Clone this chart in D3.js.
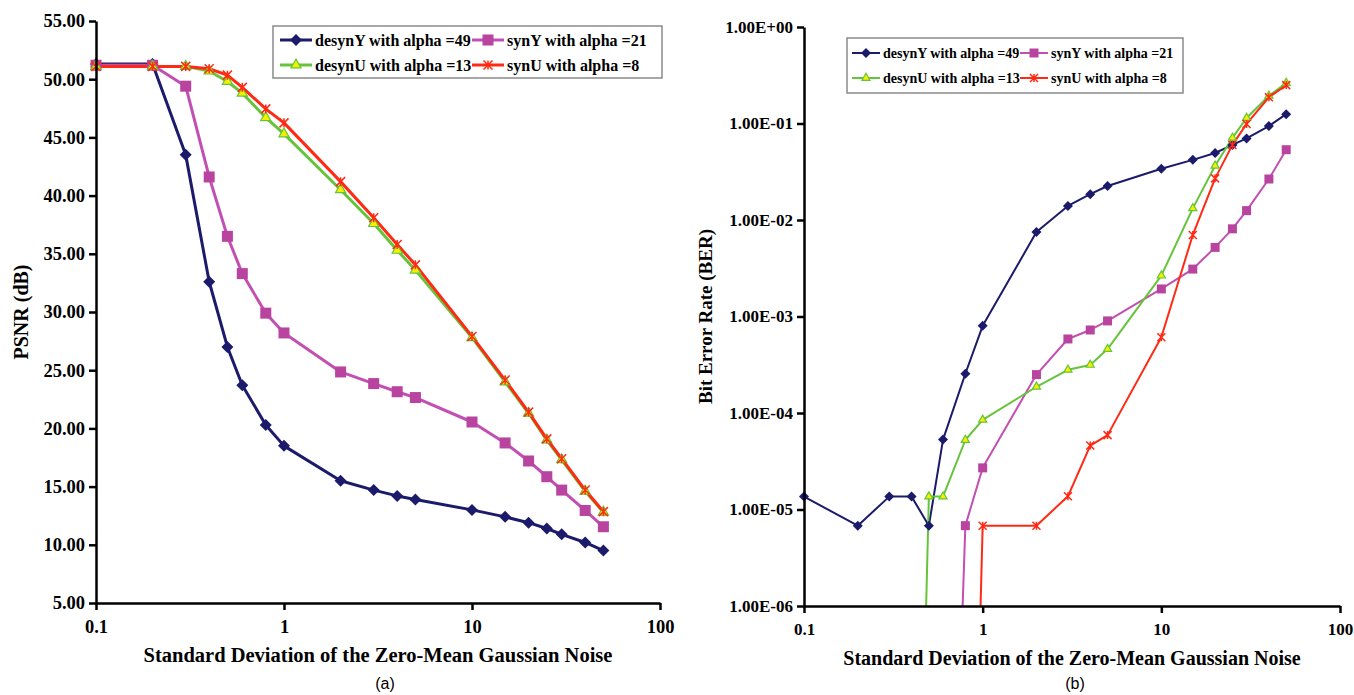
<!DOCTYPE html>
<html lang="en">
<meta charset="utf-8">
<head>
    <script src="https://d3js.org/d3.v7.min.js"></script>
    <style>
        body { margin: 0; background: #fff; }
        text { font-family: "Liberation Serif", "Times New Roman", serif; font-weight: bold; }
        .caption { font-family: "Liberation Sans", Arial, sans-serif; font-weight: normal; }
    </style>
</head>
<body>
<script>
    // noise levels (std dev of zero-mean gaussian noise)
    var noiseStd = [0.1, 0.2, 0.3, 0.4, 0.5, 0.6, 0.8, 1, 2, 3, 4, 5, 10, 15, 20, 25, 30, 40, 50];

    // (a) PSNR in dB
    var psnrDesynY = [51.3, 51.3, 43.5, 32.6, 27.0, 23.7, 20.3, 18.5, 15.5, 14.7, 14.2, 13.9, 13.0, 12.4, 11.9, 11.4, 10.9, 10.2, 9.5];
    var psnrSynY   = [51.2, 51.2, 49.4, 41.6, 36.5, 33.3, 29.9, 28.2, 24.85, 23.85, 23.15, 22.65, 20.55, 18.75, 17.2, 15.85, 14.7, 12.95, 11.55];
    var psnrDesynU = [51.1, 51.1, 51.1, 50.7, 49.8, 48.8, 46.7, 45.3, 40.5, 37.6, 35.3, 33.6, 27.8, 24.0, 21.3, 19.0, 17.3, 14.6, 12.8];
    var psnrSynU   = [51.1, 51.1, 51.1, 50.9, 50.35, 49.3, 47.45, 46.25, 41.2, 38.1, 35.8, 34.05, 27.9, 24.15, 21.4, 19.1, 17.4, 14.7, 12.85];

    // (b) bit error rate, 0 = no errors (off the log axis)
    var berDesynY = [1.36e-5, 6.8e-6, 1.36e-5, 1.36e-5, 6.8e-6, 5.3e-5, 2.55e-4, 8.0e-4, 7.5e-3, 1.4e-2, 1.85e-2, 2.25e-2, 3.4e-2, 4.2e-2, 4.95e-2, 6.0e-2, 7.0e-2, 9.4e-2, 0.125];
    var berSynY   = [0, 0, 0, 0, 0, 0, 6.8e-6, 2.7e-5, 2.5e-4, 5.85e-4, 7.25e-4, 9.0e-4, 1.93e-3, 3.1e-3, 5.2e-3, 8.1e-3, 1.25e-2, 2.66e-2, 5.35e-2];
    var berDesynU = [0, 0, 0, 0, 1.36e-5, 1.36e-5, 5.25e-5, 8.5e-5, 1.87e-4, 2.8e-4, 3.15e-4, 4.6e-4, 2.65e-3, 1.32e-2, 3.65e-2, 7.1e-2, 0.114, 0.194, 0.263];
    var berSynU   = [0, 0, 0, 0, 0, 0, 0, 6.8e-6, 6.8e-6, 1.37e-5, 4.6e-5, 5.9e-5, 6.1e-4, 7.0e-3, 2.7e-2, 6.0e-2, 9.9e-2, 0.187, 0.25];

    var seriesNames = ["desynY with alpha =49", "synY with alpha =21", "desynU with alpha =13", "synU with alpha =8"];

    var xTicks = [0.1, 1, 10, 100];
    var psnrTicks = [5, 10, 15, 20, 25, 30, 35, 40, 45, 50, 55];
    var berTicks = [1e-6, 1e-5, 1e-4, 1e-3, 1e-2, 1e-1, 1];

    var xTitle = "Standard Deviation of the Zero-Mean Gaussian Noise";

    // looks of each series (same order as seriesNames)
    var looks = [
        {color: "#1b1a6b", marker: "diamond", fill: "#1b1a6b"},
        {color: "#c24fb2", marker: "square", fill: "#b8449f"},
        {color: "#66c43a", marker: "triangle", fill: "#f4f000"},
        {color: "#ff2a14", marker: "star", fill: "none"}
    ];

    var svg = d3.select("body").append("svg")
        .attr("width", 1354)
        .attr("height", 695);

    function markerPath(kind, s) {
        if (kind == "diamond") return d3.symbol(d3.symbolSquare, s * s / 2)();
        if (kind == "square") return d3.symbol(d3.symbolSquare, s * s)();
        if (kind == "triangle") return d3.symbol(d3.symbolTriangle, s * s * 0.45)();
        var r = s / 2;
        return "M" + (-r) + "," + (-r) + "L" + r + "," + r + "M" + (-r) + "," + r + "L" + r + "," + (-r) + "M0," + (-r) + "L0," + r;
    }

    function drawMarker(g, kind, look, s, cx, cy) {
        var p = g.append("path")
            .attr("d", markerPath(kind, s))
            .attr("transform", "translate(" + cx + "," + cy + ")" + (kind == "diamond" ? " rotate(45)" : ""));
        if (kind == "star") {
            p.attr("fill", "none").attr("stroke", look.color).attr("stroke-width", 1.5);
        } else if (kind == "triangle") {
            p.attr("fill", look.fill).attr("stroke", look.color).attr("stroke-width", 1.2);
        } else {
            p.attr("fill", look.fill);
        }
    }

    function panel(o) {
        var g = svg.append("g");
        var x = d3.scaleLog().domain([0.1, 100]).range(o.xRange);
        var y = o.y;

        // plot lines
        var clipId = "clip" + o.id;
        svg.append("clipPath").attr("id", clipId)
            .append("rect")
            .attr("x", o.xRange[0]).attr("y", y.range()[1])
            .attr("width", o.xRange[1] - o.xRange[0])
            .attr("height", y.range()[0] - y.range()[1]);

        var line = d3.line()
            .x(function(d) { return x(d[0]); })
            .y(function(d) { return y(d[1] > 0 ? d[1] : 1e-12); });

        var lines = g.append("g").attr("clip-path", "url(#" + clipId + ")");
        var marks = g.append("g");
        o.series.forEach(function(vals, i) {
            var pts = noiseStd.map(function(v, j) { return [v, vals[j]]; });
            lines.append("path")
                .datum(pts)
                .attr("fill", "none")
                .attr("stroke", looks[i].color)
                .attr("stroke-width", o.lineW)
                .attr("stroke-linejoin", "round")
                .attr("d", line);
            pts.forEach(function(p) {
                if (p[1] > 0) drawMarker(marks, looks[i].marker, looks[i], o.markerSize[i], x(p[0]), y(p[1]));
            });
        });

        // axes
        var xAxis = g.append("g")
            .attr("transform", "translate(0," + y.range()[0] + ")")
            .call(d3.axisBottom(x).tickValues(xTicks).tickFormat(d3.format("~g")).tickSize(7).tickSizeOuter(0).tickPadding(10));
        var yAxis = g.append("g")
            .attr("transform", "translate(" + o.xRange[0] + ",0)")
            .call(d3.axisLeft(y).tickValues(o.yTicks).tickFormat(o.yFormat).tickSize(7).tickSizeOuter(0).tickPadding(4));
        [xAxis, yAxis].forEach(function(a) {
            a.select(".domain").attr("stroke", "#000").attr("stroke-width", o.axisW);
            a.selectAll(".tick line").attr("stroke", "#000").attr("stroke-width", o.axisW);
            a.selectAll(".tick text")
                .attr("fill", "#000")
                .style("font-family", "'Liberation Serif', serif")
                .style("font-weight", "bold")
                .style("font-size", o.tickFont + "px");
        });

        // titles
        g.append("text")
            .attr("x", (o.xRange[0] + o.xRange[1]) / 2)
            .attr("y", y.range()[0] + 59)
            .attr("text-anchor", "middle")
            .style("font-size", o.titleFont + "px")
            .text(xTitle);
        g.append("text")
            .attr("transform", "translate(" + o.yTitleX + "," + ((y.range()[0] + y.range()[1]) / 2) + ") rotate(-90)")
            .attr("text-anchor", "middle")
            .style("font-size", o.yTitleFont + "px")
            .text(o.yTitle);
        g.append("text")
            .attr("class", "caption")
            .attr("x", o.captionX)
            .attr("y", 689)
            .attr("text-anchor", "middle")
            .style("font-size", "16px")
            .text(o.caption);

        // legend
        var L = o.legend;
        var lg = g.append("g").attr("transform", "translate(" + L.x + "," + L.y + ")");
        lg.append("rect")
            .attr("width", L.w).attr("height", L.h)
            .attr("fill", "#fff")
            .attr("stroke", "#8a8a8a")
            .attr("stroke-width", 1.5);
        seriesNames.forEach(function(name, i) {
            var col = i % 2, row = Math.floor(i / 2);
            var lx = L.cols[col], ly = L.rows[row];
            lg.append("line")
                .attr("x1", lx).attr("x2", lx + L.sample)
                .attr("y1", ly).attr("y2", ly)
                .attr("stroke", looks[i].color)
                .attr("stroke-width", o.lineW);
            drawMarker(lg, looks[i].marker, looks[i], o.markerSize[i], lx + L.sample / 2, ly);
            lg.append("text")
                .attr("x", lx + L.sample + 3)
                .attr("y", ly)
                .attr("dy", "0.35em")
                .style("font-size", L.font + "px")
                .text(name);
        });
    }

    panel({
        id: "a",
        xRange: [96, 660],
        y: d3.scaleLinear().domain([5, 55]).range([603, 21]),
        yTicks: psnrTicks,
        yFormat: d3.format(".2f"),
        yTitle: "PSNR (dB)",
        yTitleX: 28,
        series: [psnrDesynY, psnrSynY, psnrDesynU, psnrSynU],
        lineW: 3,
        axisW: 2.5,
        markerSize: [12, 11, 10, 9],
        tickFont: 18.5,
        titleFont: 20.5,
        yTitleFont: 20,
        caption: "(a)",
        captionX: 385,
        legend: {x: 273, y: 26, w: 389, h: 52, cols: [7, 199], rows: [14, 39], sample: 32, font: 16}
    });

    panel({
        id: "b",
        xRange: [804, 1340],
        y: d3.scaleLog().domain([1e-6, 1]).range([606, 27]),
        yTicks: berTicks,
        yFormat: function(d) {
            var e = Math.round(Math.log10(d));
            return "1.00E" + (e < 0 ? "-" : "+") + String(Math.abs(e)).padStart(2, "0");
        },
        yTitle: "Bit Error Rate (BER)",
        yTitleX: 712,
        series: [berDesynY, berSynY, berDesynU, berSynU],
        lineW: 2,
        axisW: 2.5,
        markerSize: [10, 9, 8, 8],
        tickFont: 17,
        titleFont: 20,
        yTitleFont: 19,
        caption: "(b)",
        captionX: 1075,
        legend: {x: 847, y: 38, w: 336, h: 55, cols: [5, 173], rows: [15, 40], sample: 28, font: 14}
    });
</script>
</body>
</html>
